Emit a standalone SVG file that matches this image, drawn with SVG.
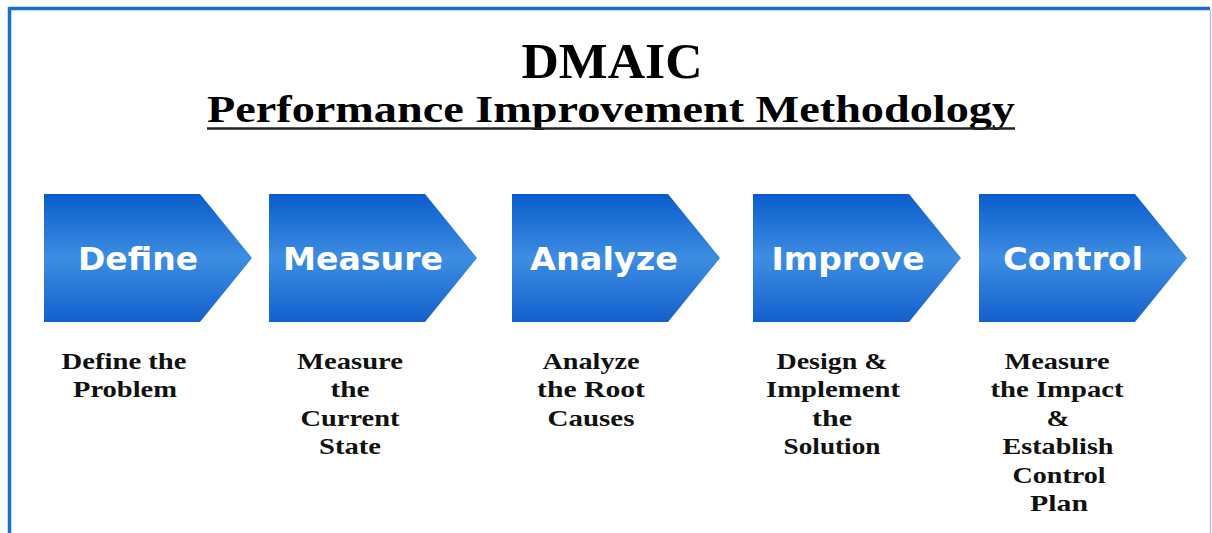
<svg xmlns="http://www.w3.org/2000/svg" width="1212" height="533" viewBox="0 0 1212 533">
<style>
.title{font-family:"Liberation Serif","Times New Roman",serif;font-weight:bold;fill:#000;text-anchor:middle}
.chev{fill:url(#blue)}
.lbl{font-family:"DejaVu Sans",Verdana,sans-serif;font-weight:bold;font-size:32px;fill:#fff;text-anchor:middle}
.desc{font-family:"Liberation Serif","Times New Roman",serif;font-weight:bold;font-size:24px;fill:#111;text-anchor:middle}
</style>
<defs>
<linearGradient id="blue" x1="0" y1="0" x2="0" y2="1">
<stop offset="0" stop-color="#0a5ccb"/>
<stop offset="0.5" stop-color="#3d8de2"/>
<stop offset="1" stop-color="#1360cc"/>
</linearGradient>
<path id="shape" d="M0,0 H156 L208,64 L156,128 H0 Z"/>
</defs>
<rect width="1212" height="533" fill="#fff"/>
<g id="frame">
<line x1="9.5" y1="8.5" x2="1210" y2="8.5" stroke="#1a6dd4" stroke-width="3.5"/>
<line x1="9.5" y1="7" x2="9.5" y2="533" stroke="#1a6dd4" stroke-width="3.5"/>
<line x1="1210.5" y1="10" x2="1210.5" y2="533" stroke="#a9c8ef" stroke-width="1.5"/>
</g>
<g id="title">
<text class="title" x="612" y="78" font-size="50" textLength="181" lengthAdjust="spacingAndGlyphs">DMAIC</text>
<text class="title" x="611" y="122" font-size="38" textLength="808" lengthAdjust="spacingAndGlyphs">Performance Improvement Methodology</text>
<line x1="207" y1="128.5" x2="1015" y2="128.5" stroke="#222" stroke-width="2.5"/>
</g>
<g id="connectors"></g>
<g id="define">
<use href="#shape" class="chev" x="44" y="194"/>
<text class="lbl" x="138" y="270" textLength="120" lengthAdjust="spacingAndGlyphs">Define</text>
<text class="desc" x="124" y="369" textLength="125" lengthAdjust="spacingAndGlyphs">Define the</text>
<text class="desc" x="125" y="397" textLength="104" lengthAdjust="spacingAndGlyphs">Problem</text>
</g>
<g id="measure">
<use href="#shape" class="chev" x="269" y="194"/>
<text class="lbl" x="363" y="270" textLength="160" lengthAdjust="spacingAndGlyphs">Measure</text>
<text class="desc" x="350" y="369" textLength="106" lengthAdjust="spacingAndGlyphs">Measure</text>
<text class="desc" x="350" y="397" textLength="39" lengthAdjust="spacingAndGlyphs">the</text>
<text class="desc" x="350" y="426" textLength="99" lengthAdjust="spacingAndGlyphs">Current</text>
<text class="desc" x="350" y="454" textLength="62" lengthAdjust="spacingAndGlyphs">State</text>
</g>
<g id="analyze">
<use href="#shape" class="chev" x="512" y="194"/>
<text class="lbl" x="604" y="270" textLength="148" lengthAdjust="spacingAndGlyphs">Analyze</text>
<text class="desc" x="591" y="369" textLength="97" lengthAdjust="spacingAndGlyphs">Analyze</text>
<text class="desc" x="591" y="397" textLength="108" lengthAdjust="spacingAndGlyphs">the Root</text>
<text class="desc" x="591" y="426" textLength="87" lengthAdjust="spacingAndGlyphs">Causes</text>
</g>
<g id="improve">
<use href="#shape" class="chev" x="753" y="194"/>
<text class="lbl" x="848" y="270" textLength="153" lengthAdjust="spacingAndGlyphs">Improve</text>
<text class="desc" x="832" y="369" textLength="111" lengthAdjust="spacingAndGlyphs">Design &amp;</text>
<text class="desc" x="833" y="397" textLength="134" lengthAdjust="spacingAndGlyphs">Implement</text>
<text class="desc" x="832" y="426" textLength="40" lengthAdjust="spacingAndGlyphs">the</text>
<text class="desc" x="832" y="454" textLength="97" lengthAdjust="spacingAndGlyphs">Solution</text>
</g>
<g id="control">
<use href="#shape" class="chev" x="979" y="194"/>
<text class="lbl" x="1073" y="270" textLength="140" lengthAdjust="spacingAndGlyphs">Control</text>
<text class="desc" x="1057" y="369" textLength="105" lengthAdjust="spacingAndGlyphs">Measure</text>
<text class="desc" x="1057" y="397" textLength="133" lengthAdjust="spacingAndGlyphs">the Impact</text>
<text class="desc" x="1058" y="426" textLength="23" lengthAdjust="spacingAndGlyphs">&amp;</text>
<text class="desc" x="1058" y="454" textLength="111" lengthAdjust="spacingAndGlyphs">Establish</text>
<text class="desc" x="1059" y="483" textLength="93" lengthAdjust="spacingAndGlyphs">Control</text>
<text class="desc" x="1059" y="511" textLength="58" lengthAdjust="spacingAndGlyphs">Plan</text>
</g>
</svg>
